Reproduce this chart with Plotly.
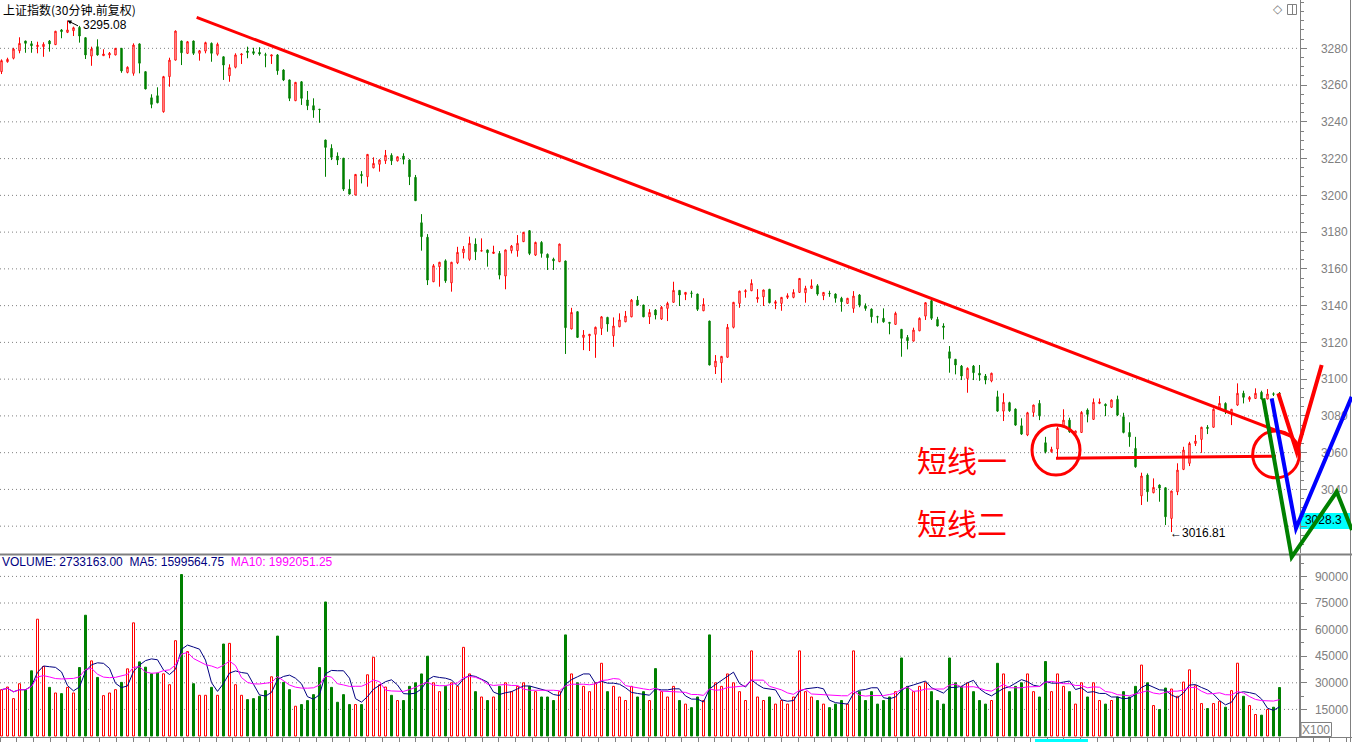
import plotly.graph_objects as go
import pandas as pd

W, H = 1352, 742

# ---------------- data (30-minute bars) ----------------
opens = [
    3267.3, 3272.7, 3274.6, 3278.7, 3284.0, 3282.5, 3280.9, 3280.9, 3284.0, 3282.0,
    3290.0, 3288.7, 3289.6, 3291.4, 3285.8, 3275.8, 3280.9, 3276.0, 3276.4, 3276.4,
    3280.0, 3266.9, 3266.4, 3282.4, 3267.3, 3253.1, 3254.2, 3245.5, 3264.6, 3273.6,
    3284.0, 3277.3, 3284.0, 3277.3, 3278.5, 3282.7, 3276.8, 3275.4, 3265.1, 3269.7,
    3276.4, 3278.5, 3278.2, 3277.8, 3276.5, 3275.8, 3276.4, 3268.2, 3262.8, 3251.5,
    3261.8, 3251.9, 3248.8, 3246.9, 3230.1, 3225.6, 3221.4, 3220.2, 3203.4, 3200.2,
    3211.4, 3210.1, 3215.0, 3216.9, 3218.8, 3221.8, 3218.8, 3221.4, 3219.2, 3209.8,
    3185.1, 3177.2, 3153.0, 3161.2, 3164.4, 3152.4, 3163.3, 3168.8, 3165.2, 3173.5,
    3169.7, 3170.3, 3168.4, 3168.4, 3156.1, 3169.9, 3169.9, 3174.8, 3180.8, 3167.5,
    3174.4, 3167.9, 3165.3, 3163.9, 3164.3, 3127.3, 3136.7, 3122.7, 3123.6, 3124.4,
    3127.6, 3133.6, 3123.6, 3128.5, 3131.2, 3133.9, 3143.0, 3140.3, 3133.9, 3137.6,
    3132.7, 3138.5, 3141.8, 3148.3, 3146.1, 3146.9, 3146.3, 3137.2, 3131.6, 3106.7,
    3108.9, 3111.9, 3128.2, 3141.2, 3147.6, 3148.1, 3143.6, 3144.8, 3148.9, 3141.2,
    3141.2, 3144.5, 3144.5, 3147.2, 3147.0, 3149.4, 3150.8, 3145.4, 3146.7, 3146.3,
    3144.0, 3141.2, 3138.5, 3145.8, 3139.8, 3138.1, 3134.0, 3133.1, 3130.9, 3129.8,
    3127.1, 3122.7, 3120.7, 3126.3, 3134.3, 3142.7, 3132.5, 3128.9, 3114.9, 3110.8,
    3107.1, 3100.4, 3107.1, 3103.2, 3101.7, 3099.0, 3090.4, 3082.6, 3087.2, 3083.7,
    3074.6, 3069.6, 3081.9, 3086.8, 3065.4, 3060.5, 3062.0, 3074.1, 3077.7, 3070.5,
    3071.0, 3083.2, 3078.1, 3086.8, 3086.3, 3084.7, 3089.0, 3079.5, 3071.0, 3062.3,
    3036.5, 3047.8, 3038.2, 3042.4, 3040.9, 3024.2, 3038.7, 3050.9, 3054.2, 3065.0,
    3067.2, 3073.8, 3073.8, 3083.6, 3086.8, 3081.9, 3085.9, 3092.3, 3089.0, 3089.5,
    3092.8, 3089.2, 3092.0, 3092.3,
]
highs = [
    3274.0, 3274.9, 3280.3, 3286.0, 3284.1, 3284.0, 3283.6, 3283.3, 3284.5, 3289.5,
    3290.5, 3295.08, 3291.8, 3292.2, 3286.0, 3280.9, 3284.9, 3279.5, 3278.0, 3280.2,
    3280.2, 3270.2, 3282.7, 3282.7, 3267.5, 3255.0, 3258.8, 3265.0, 3274.9, 3289.7,
    3284.2, 3284.0, 3284.2, 3279.1, 3283.6, 3283.2, 3283.1, 3275.6, 3271.3, 3277.3,
    3277.3, 3280.9, 3280.3, 3280.6, 3277.6, 3276.5, 3276.9, 3268.6, 3263.0, 3261.7,
    3262.2, 3256.8, 3252.8, 3247.0, 3230.3, 3227.8, 3223.4, 3220.4, 3208.7, 3211.6,
    3213.2, 3222.5, 3220.7, 3219.6, 3224.7, 3222.9, 3221.2, 3222.9, 3219.6, 3211.1,
    3189.8, 3178.9, 3162.6, 3163.8, 3165.2, 3163.8, 3172.0, 3172.4, 3177.5, 3176.6,
    3176.6, 3170.5, 3172.6, 3169.7, 3170.5, 3173.0, 3178.4, 3180.1, 3181.1, 3174.8,
    3175.1, 3168.4, 3166.1, 3173.7, 3164.5, 3138.8, 3136.9, 3126.7, 3124.6, 3128.6,
    3134.3, 3133.9, 3133.6, 3135.8, 3137.1, 3143.6, 3145.2, 3140.5, 3138.1, 3138.1,
    3139.8, 3142.1, 3153.0, 3148.5, 3147.4, 3148.1, 3146.5, 3144.0, 3131.8, 3113.1,
    3112.6, 3130.0, 3142.0, 3148.1, 3148.9, 3154.3, 3149.0, 3148.7, 3149.1, 3143.0,
    3144.7, 3146.7, 3148.9, 3155.0, 3150.8, 3154.3, 3151.7, 3147.4, 3148.1, 3146.7,
    3144.8, 3144.2, 3147.9, 3146.3, 3141.2, 3138.5, 3134.5, 3138.5, 3131.1, 3136.7,
    3127.3, 3124.0, 3128.0, 3133.6, 3141.8, 3143.0, 3133.9, 3130.4, 3118.0, 3111.0,
    3107.7, 3106.4, 3107.7, 3107.7, 3102.8, 3103.5, 3093.7, 3092.3, 3087.7, 3084.1,
    3078.7, 3082.2, 3086.1, 3088.6, 3068.6, 3063.2, 3074.1, 3083.6, 3079.0, 3072.0,
    3082.6, 3084.1, 3089.5, 3089.5, 3086.8, 3089.0, 3091.0, 3081.7, 3076.5, 3068.6,
    3049.1, 3048.7, 3046.0, 3042.7, 3041.1, 3039.3, 3054.2, 3063.2, 3065.9, 3069.6,
    3074.1, 3075.0, 3084.1, 3090.8, 3087.4, 3083.8, 3097.7, 3093.7, 3090.8, 3095.0,
    3093.7, 3094.6, 3092.8, 3093.0,
]
lows = [
    3266.0, 3272.2, 3274.0, 3277.3, 3277.6, 3277.6, 3277.3, 3275.4, 3278.2, 3281.8,
    3285.5, 3288.3, 3286.7, 3283.1, 3274.2, 3270.5, 3276.0, 3275.9, 3274.6, 3276.2,
    3266.7, 3266.4, 3265.1, 3266.4, 3257.7, 3247.4, 3250.1, 3245.0, 3259.1, 3273.4,
    3270.9, 3276.9, 3276.4, 3273.3, 3277.3, 3272.7, 3276.0, 3262.8, 3261.8, 3269.1,
    3271.5, 3274.6, 3276.4, 3276.0, 3269.7, 3271.5, 3265.6, 3262.2, 3251.3, 3251.3,
    3249.2, 3246.4, 3242.2, 3239.5, 3210.1, 3219.2, 3216.5, 3202.4, 3200.5, 3200.0,
    3206.5, 3204.7, 3214.7, 3212.9, 3217.1, 3216.5, 3218.4, 3216.9, 3205.6, 3197.0,
    3169.9, 3151.2, 3152.8, 3150.3, 3152.4, 3147.6, 3162.6, 3165.7, 3164.4, 3164.8,
    3169.5, 3161.2, 3168.2, 3154.3, 3148.9, 3168.4, 3166.6, 3174.6, 3167.5, 3167.0,
    3166.1, 3159.4, 3159.4, 3163.7, 3113.7, 3127.1, 3122.5, 3115.8, 3115.3, 3111.6,
    3124.0, 3125.8, 3117.6, 3128.3, 3131.0, 3133.7, 3139.9, 3133.7, 3130.0, 3132.5,
    3132.2, 3131.6, 3141.6, 3139.8, 3143.0, 3144.3, 3137.1, 3137.0, 3107.5, 3102.8,
    3098.0, 3111.7, 3127.6, 3138.8, 3144.3, 3147.9, 3141.6, 3139.8, 3141.2, 3138.1,
    3137.2, 3143.6, 3144.0, 3147.0, 3141.6, 3149.2, 3145.4, 3143.0, 3144.8, 3141.6,
    3136.7, 3141.0, 3136.1, 3139.1, 3137.2, 3130.7, 3130.4, 3130.7, 3124.4, 3129.6,
    3112.2, 3116.2, 3120.5, 3126.1, 3132.2, 3132.2, 3128.7, 3121.6, 3103.5, 3102.6,
    3099.5, 3092.6, 3099.5, 3099.1, 3097.2, 3098.3, 3082.2, 3077.2, 3082.2, 3074.6,
    3069.6, 3069.0, 3079.5, 3077.7, 3059.6, 3060.0, 3056.9, 3073.8, 3070.8, 3070.3,
    3070.8, 3076.5, 3077.9, 3086.4, 3079.9, 3084.4, 3079.9, 3070.5, 3063.2, 3051.8,
    3031.5, 3033.3, 3037.9, 3033.3, 3020.6, 3016.81, 3036.9, 3050.5, 3052.7, 3063.6,
    3059.9, 3070.1, 3073.6, 3083.4, 3081.0, 3075.0, 3085.5, 3086.8, 3087.7, 3089.3,
    3089.0, 3089.0, 3090.8, 3090.3,
]
closes = [
    3273.3, 3274.0, 3279.6, 3282.7, 3282.7, 3281.4, 3281.7, 3282.2, 3282.4, 3289.3,
    3289.1, 3290.0, 3291.2, 3286.7, 3276.4, 3279.6, 3276.4, 3276.9, 3277.3, 3280.0,
    3267.7, 3269.7, 3281.8, 3271.9, 3257.9, 3249.5, 3250.4, 3264.6, 3273.6, 3289.4,
    3277.6, 3283.6, 3277.3, 3278.7, 3283.1, 3277.3, 3282.2, 3270.9, 3269.5, 3276.4,
    3276.9, 3277.8, 3277.3, 3276.9, 3276.3, 3276.4, 3267.8, 3262.8, 3252.8, 3261.5,
    3252.8, 3248.8, 3246.4, 3246.7, 3226.1, 3220.7, 3219.2, 3203.4, 3200.7, 3211.4,
    3210.7, 3222.3, 3217.4, 3219.2, 3221.8, 3218.8, 3221.0, 3219.6, 3210.1, 3197.1,
    3177.5, 3153.9, 3161.7, 3163.6, 3153.5, 3163.6, 3169.0, 3170.8, 3173.9, 3169.3,
    3169.9, 3168.8, 3169.2, 3156.6, 3170.3, 3172.4, 3173.9, 3179.9, 3168.4, 3174.4,
    3168.4, 3166.1, 3164.4, 3173.5, 3128.0, 3136.3, 3122.7, 3124.0, 3124.4, 3128.2,
    3133.9, 3130.0, 3128.9, 3132.2, 3134.3, 3143.0, 3140.3, 3133.9, 3136.3, 3134.9,
    3139.1, 3141.2, 3148.3, 3145.8, 3147.2, 3146.7, 3138.0, 3140.7, 3107.7, 3109.8,
    3112.4, 3128.2, 3141.8, 3147.9, 3148.1, 3152.1, 3144.5, 3148.5, 3141.6, 3142.1,
    3144.5, 3145.4, 3147.2, 3154.8, 3149.4, 3150.8, 3146.3, 3147.2, 3146.5, 3144.0,
    3142.1, 3144.0, 3145.2, 3140.3, 3138.5, 3133.9, 3133.8, 3131.2, 3130.4, 3135.8,
    3122.2, 3120.9, 3126.7, 3133.1, 3141.6, 3133.1, 3128.9, 3128.2, 3111.3, 3107.7,
    3101.7, 3105.9, 3103.5, 3102.2, 3099.5, 3103.2, 3082.6, 3087.4, 3082.8, 3075.0,
    3070.1, 3081.7, 3085.9, 3080.1, 3060.5, 3061.8, 3073.2, 3077.7, 3071.4, 3071.8,
    3081.9, 3080.8, 3087.4, 3087.5, 3085.5, 3088.6, 3080.5, 3071.0, 3068.6, 3052.3,
    3047.3, 3038.7, 3041.1, 3040.7, 3025.1, 3039.1, 3050.5, 3061.4, 3065.0, 3066.3,
    3073.8, 3073.2, 3083.6, 3086.8, 3082.2, 3083.6, 3092.3, 3090.1, 3090.1, 3092.3,
    3089.2, 3091.9, 3091.8, 3092.1,
]
# volume in units of x100
volumes = [
    26124, 27617, 21086, 29483, 26124, 36760, 65870, 39186, 27430, 24258,
    23885, 27430, 24258, 38626, 68109, 42358, 33028, 22765, 24258, 26124,
    30229, 37880, 63817, 41798, 38813, 35081, 35454, 35081, 28923, 53741,
    91061, 47583, 29483, 22952, 22952, 27430, 22952, 51875, 52248, 28923,
    22952, 20526, 21086, 22392, 25564, 33401, 56353, 30229, 26124, 16794,
    17727, 19966, 23325, 38626, 75573, 27430, 19033, 23325, 17727, 17727,
    17727, 34521, 44411, 28923, 27617, 22952, 19966,
    20000, 28000, 30000, 35000, 45000, 30000, 25000, 28000, 30000, 28000,
    50000, 35000, 25000, 22000, 20000, 22000, 28000, 30000, 25000, 28000,
    30000, 28000, 25000, 22000, 22000, 20000, 25000, 57000, 35000, 30000,
    28000, 25000, 30000, 41000, 25000, 28000, 22000, 20000, 28000, 22000,
    25000, 20000, 38000, 25000, 22000, 28000, 20000, 18000, 16000, 22000,
    20000, 57000, 30000, 28000, 35000, 30000, 25000, 20000, 48000, 22000,
    20000, 22000, 18000, 20000, 18000, 22000, 48000, 25000, 22000, 20000,
    18000, 16000, 18000, 20000, 18000, 48000, 25000, 20000, 25000, 18000,
    20000, 22000, 25000, 44000, 28000, 25000, 28000, 30000, 25000, 20000,
    18000, 44000, 30000, 28000, 30000, 25000, 20000, 18000, 20000, 41000,
    35000, 25000, 28000, 30000, 35000, 25000, 22000, 42000, 25000, 35000,
    28000, 25000, 18000, 30000, 22000, 30000, 20000, 18000, 20000, 22000,
    25000, 22000, 28000, 40000, 30000,
    17167, 14928, 27057, 26497, 22392, 30416, 37320, 28363, 18287, 15488,
    18287, 19593, 16234, 25564, 41052, 22392, 17167, 12129, 11756, 14928,
    16234, 27332,
]

price_ticks = [3020, 3040, 3060, 3080, 3100, 3120, 3140, 3160, 3180, 3200, 3220, 3240, 3260, 3280]
price_labels = ["", "3040", "3060", "3080", "3100", "3120", "3140", "3160", "3180", "3200",
                "3220", "3240", "3260", "3280"]
vol_ticks = [15000, 30000, 45000, 60000, 75000, 90000]
vol_labels = ["15000", "30000", "45000", "60000", "75000", "90000"]

# hand-drawn annotation lines (x in bar index, y in price)
trend_x = [32.53, 214.75]
trend_y = [3296.9, 3069.2]
level_x = [175.75, 212.42]
level_y = [3056.9, 3058.1]
circle1_x = [171.75, 179.75]
circle1_y = [3047.8, 3075.0]
circle2_x = [208.53, 216.3]
circle2_y = [3046.3, 3071.8]
red_v_x = [212.8, 215.87, 220.03]
red_v_y = [3092.3, 3060.5, 3107.7]
blue_v_x = [211.7, 215.75, 225.03]
blue_v_y = [3089.5, 3018.8, 3090.4]
green_v_x = [210.3, 215.03, 222.53, 225.08]
green_v_y = [3089.5, 3003.2, 3038.7, 3017.9]

n = len(opens)
assert all(len(a) == n for a in (highs, lows, closes, volumes)), \
    [len(a) for a in (opens, highs, lows, closes, volumes)]
x = list(range(n))

RED = "#FF0000"
GREEN = "#008000"
GRAY = "#808080"
FONT = "Liberation Sans, Arial, sans-serif"
CJK = "Noto Sans CJK SC, sans-serif"

X_RANGE = [-0.25, W / 6 - 0.25]      # 6 px per bar
P_RANGE = [3005.4, 3306.3]
P_DOM = [189 / H, 1.0]
V_RANGE = [-564, 102068]
V_DOM = [5 / H, 187 / H]
AXIS_X = 1299.5 / W


def fx(i):
    return (i - X_RANGE[0]) / (X_RANGE[1] - X_RANGE[0])


def fy(p):
    return P_DOM[0] + (p - P_RANGE[0]) / (P_RANGE[1] - P_RANGE[0]) * (P_DOM[1] - P_DOM[0])


def px(v):
    return v / W


def py(v):
    return 1 - v / H


up = [c > o for o, c in zip(opens, closes)]
vs = pd.Series(volumes, dtype=float)
ma5 = vs.rolling(5, min_periods=1).mean()
ma10 = vs.rolling(10, min_periods=1).mean()

fig = go.Figure()
fig.add_trace(go.Candlestick(
    x=x, open=opens, high=highs, low=lows, close=closes,
    increasing=dict(line=dict(color=RED, width=1), fillcolor="#FFFFFF"),
    decreasing=dict(line=dict(color=GREEN, width=1), fillcolor=GREEN),
    whiskerwidth=0, hoverinfo="skip", showlegend=False, xaxis="x", yaxis="y"))
fig.add_trace(go.Bar(
    x=x, y=volumes, width=1 / 3,
    marker=dict(color=["#FFFFFF" if u else GREEN for u in up],
                line=dict(color=[RED if u else GREEN for u in up], width=1)),
    hoverinfo="skip", showlegend=False, xaxis="x2", yaxis="y2"))
fig.add_trace(go.Scatter(x=x, y=ma5, mode="lines", line=dict(color="#000080", width=1),
                         hoverinfo="skip", showlegend=False, xaxis="x2", yaxis="y2"))
fig.add_trace(go.Scatter(x=x, y=ma10, mode="lines", line=dict(color="#FF00FF", width=1),
                         hoverinfo="skip", showlegend=False, xaxis="x2", yaxis="y2"))
# cursor price box text
fig.add_trace(go.Scatter(x=[220.3], y=[3022.8], mode="text", text=["3028.3"],
                         textfont=dict(family=FONT, size=12, color="#000000"),
                         cliponaxis=False, hoverinfo="skip", showlegend=False,
                         xaxis="x", yaxis="y"))

shapes = []
for v in price_ticks:
    shapes.append(dict(type="line", xref="paper", yref="y", x0=0, x1=1297 / W, y0=v, y1=v,
                       line=dict(color=GRAY, width=1, dash="1px,3px"), layer="below"))
for v in vol_ticks:
    shapes.append(dict(type="line", xref="paper", yref="y2", x0=0, x1=1297 / W, y0=v, y1=v,
                       line=dict(color=GRAY, width=1, dash="1px,3px"), layer="below"))
# panel separator and frame
shapes.append(dict(type="line", xref="paper", yref="paper", x0=0, x1=1, y0=py(554.5), y1=py(554.5),
                   line=dict(color=GRAY, width=2)))
shapes.append(dict(type="line", xref="paper", yref="paper", x0=px(1350.5), x1=px(1350.5), y0=0, y1=1,
                   line=dict(color=GRAY, width=1)))
# cursor price box
shapes.append(dict(type="rect", xref="paper", yref="paper", x0=px(1299.5), x1=px(1351), y0=py(529), y1=py(513),
                   fillcolor="#00FFFF", line=dict(width=0), layer="below"))
# X100 box
shapes.append(dict(type="rect", xref="paper", yref="paper", x0=px(1301), x1=px(1331.5), y0=py(736.5), y1=py(722.5),
                   fillcolor="#FFFFFF", line=dict(color=GRAY, width=1)))
# small icons top-right
shapes.append(dict(type="rect", xref="paper", yref="paper", x0=px(1287.5), x1=px(1296.5), y0=py(14.5), y1=py(4.5),
                   line=dict(color=GRAY, width=1)))
shapes.append(dict(type="line", xref="paper", yref="paper", x0=px(1292.5), x1=px(1292.5), y0=py(14.5), y1=py(4.5),
                   line=dict(color=GRAY, width=1)))
# bottom cyan marker
shapes.append(dict(type="rect", xref="paper", yref="paper", x0=px(1035), x1=px(1088), y0=0, y1=py(739),
                   fillcolor="#00FFFF", line=dict(width=0)))

# drawn analysis lines
shapes.append(dict(type="line", xref="x", yref="y", x0=trend_x[0], x1=trend_x[1], y0=trend_y[0], y1=trend_y[1],
                   line=dict(color=RED, width=3)))
shapes.append(dict(type="line", xref="x", yref="y", x0=level_x[0], x1=level_x[1], y0=level_y[0], y1=level_y[1],
                   line=dict(color=RED, width=3)))
shapes.append(dict(type="circle", xref="x", yref="y", x0=circle1_x[0], x1=circle1_x[1],
                   y0=circle1_y[0], y1=circle1_y[1], line=dict(color=RED, width=3)))
shapes.append(dict(type="circle", xref="x", yref="y", x0=circle2_x[0], x1=circle2_x[1],
                   y0=circle2_y[0], y1=circle2_y[1], line=dict(color=RED, width=3)))


def vpath(xs, ys):
    pts = [f"{fx(a):.5f},{fy(b):.5f}" for a, b in zip(xs, ys)]
    return "M" + " L".join(pts)


for xs, ys, col in ((green_v_x, green_v_y, GREEN), (blue_v_x, blue_v_y, "#0000FF"), (red_v_x, red_v_y, RED)):
    shapes.append(dict(type="path", xref="paper", yref="paper", path=vpath(xs, ys),
                       line=dict(color=col, width=4)))

annotations = [
    dict(x=px(1), y=py(9), xref="paper", yref="paper", text="上证指数(30分钟.前复权)", showarrow=False,
         xanchor="left", yanchor="middle", font=dict(family=CJK, size=12, color="#000000")),
    dict(x=px(81), y=py(25), xref="paper", yref="paper", text="3295.08", showarrow=False,
         xanchor="left", yanchor="middle", font=dict(family=FONT, size=12, color="#000000")),
    dict(x=11, y=highs[11], xref="x", yref="y", text="", showarrow=True, ax=12, ay=6,
         arrowhead=2, arrowsize=0.8, arrowwidth=1, arrowcolor="#000000"),
    dict(x=px(1168), y=py(533), xref="paper", yref="paper", text="←3016.81", showarrow=False,
         xanchor="left", yanchor="middle", font=dict(family=FONT, size=12, color="#000000")),
    dict(x=px(915), y=py(459), xref="paper", yref="paper", text="短线一", showarrow=False,
         xanchor="left", yanchor="middle", font=dict(family=CJK, size=30, color=RED)),
    dict(x=px(915), y=py(522), xref="paper", yref="paper", text="短线二", showarrow=False,
         xanchor="left", yanchor="middle", font=dict(family=CJK, size=30, color=RED)),
    dict(x=px(0), y=py(562), xref="paper", yref="paper",
         text='<span style="color:#000080">VOLUME: 2733163.00 &nbsp;MA5: 1599564.75 &nbsp;</span>'
              '<span style="color:#FF00FF">MA10: 1992051.25</span>',
         showarrow=False, xanchor="left", yanchor="middle", font=dict(family=FONT, size=12)),
    dict(x=px(1316), y=py(729.5), xref="paper", yref="paper", text="X100", showarrow=False,
         xanchor="center", yanchor="middle", font=dict(family=FONT, size=12, color=GRAY)),
    dict(x=px(1277.5), y=py(9), xref="paper", yref="paper", text="◇", showarrow=False,
         xanchor="center", yanchor="middle", font=dict(family="DejaVu Sans", size=12, color=GRAY)),
]

axis_common = dict(showgrid=False, zeroline=False, fixedrange=True)

fig.update_layout(
    width=W, height=H, margin=dict(l=0, r=0, t=0, b=0),
    paper_bgcolor="#FFFFFF", plot_bgcolor="#FFFFFF",
    showlegend=False, boxgap=2 / 3, bargap=0, hovermode=False,
    xaxis=dict(domain=[0, 1], range=X_RANGE, anchor="y", visible=False,
               rangeslider=dict(visible=False), **axis_common),
    xaxis2=dict(domain=[0, 1], range=X_RANGE, anchor="y2", showticklabels=False,
                showline=True, linecolor=GRAY, linewidth=1, ticks="outside", ticklen=4,
                tickcolor=GRAY, tick0=10.87, dtick=2.77, **axis_common),
    yaxis=dict(domain=P_DOM, range=P_RANGE, anchor="free", position=AXIS_X, side="right",
               tickmode="array", tickvals=price_ticks, ticktext=price_labels,
               ticks="outside", ticklen=6, tickwidth=1, tickcolor=GRAY,
               showline=True, linecolor=GRAY, linewidth=1,
               tickfont=dict(family=FONT, size=12, color=GRAY), ticklabelstandoff=12,
               minor=dict(tickmode="linear", tick0=3000, dtick=5, ticks="outside", ticklen=3,
                          tickcolor=GRAY, showgrid=False),
               **axis_common),
    yaxis2=dict(domain=V_DOM, range=V_RANGE, anchor="free", position=AXIS_X, side="right",
                tickmode="array", tickvals=vol_ticks, ticktext=vol_labels,
                ticks="outside", ticklen=6, tickwidth=1, tickcolor=GRAY,
                showline=True, linecolor=GRAY, linewidth=2,
                tickfont=dict(family=FONT, size=12, color=GRAY), ticklabelstandoff=6,
                minor=dict(tickmode="linear", tick0=0, dtick=7500, ticks="outside", ticklen=3,
                           tickcolor=GRAY, showgrid=False),
                **axis_common),
    shapes=shapes,
    annotations=annotations,
)

fig.write_html("out.html", config={"displayModeBar": False, "staticPlot": True})
